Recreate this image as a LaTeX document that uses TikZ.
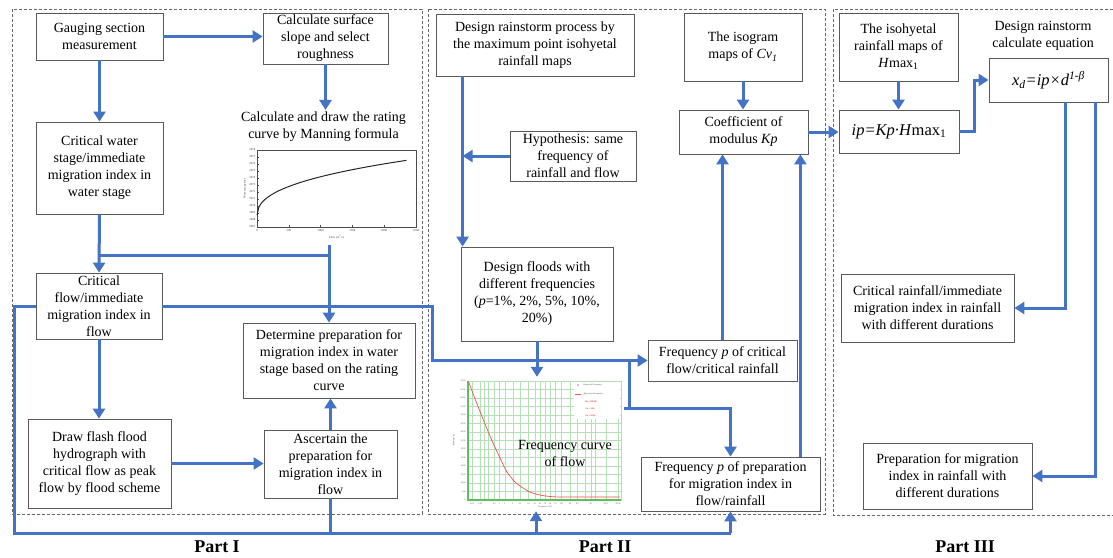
\documentclass[tikz,border=0pt]{standalone}
\usepackage{fontspec}
\setmainfont{Liberation Serif}
\usetikzlibrary{arrows.meta,calc}

\definecolor{flowblue}{HTML}{4472C4}
\definecolor{boxline}{HTML}{595959}
\definecolor{gridgreen}{HTML}{B5DFB5}
\definecolor{axisgreen}{HTML}{5CBF5C}
\definecolor{curvered}{HTML}{E8544E}
\definecolor{framegray}{HTML}{666666}

\begin{document}
\begin{tikzpicture}[x=1pt,y=-1pt,
  box/.style={draw=boxline, line width=0.8pt, align=center, inner sep=1pt,
              font=\fontsize{14}{17}\selectfont, fill=white},
  plain/.style={align=center, inner sep=2pt, font=\fontsize{14}{17}\selectfont},
  link/.style={draw=flowblue, line width=3pt},
  arr/.style={link, -{Triangle[length=10pt,width=12pt]}},
  partframe/.style={draw=framegray, line width=0.7pt, dash pattern=on 3pt off 2pt},
  partlabel/.style={font=\fontsize{18}{20}\selectfont\bfseries},
  tick/.style={font=\fontsize{3}{3.5}\selectfont, inner sep=0.4pt, text=black!75},
  ftick/.style={font=\fontsize{2.2}{2.6}\selectfont, inner sep=0.3pt, text=black!70},
]
\useasboundingbox (0,0) rectangle (1113,557);

% ---------- dashed frames of the three parts ----------
\draw[partframe] (12,9) rectangle (422,514);
\draw[partframe] (428,9) rectangle (825,514);
\draw[partframe] (1113,9) -- (833,9) -- (833,515) -- (1113,515);

\node[partlabel] (p1) at (217,547) {Part I};
\node[partlabel] (p2) at (605,547) {Part II};
\node[partlabel] (p3) at (965,547) {Part III};

% ---------- Part I ----------
\node[box, minimum width=127, minimum height=47] (gauge) at (99.5,36.5)
  {Gauging section\\measurement};
\node[box, minimum width=125, minimum height=51] (slope) at (325.5,38.5)
  {Calculate surface\\slope and select\\roughness};
\node[plain] (ratetitle) at (323.5,127)
  {Calculate and draw the rating\\curve by Manning formula};
\node[box, minimum width=127, minimum height=92] (wstage) at (99.5,168)
  {Critical water\\stage/immediate\\migration index in\\water stage};
\node[box, minimum width=126, minimum height=66] (cflow) at (99,306)
  {Critical\\flow/immediate\\migration index in\\flow};
\node[box, minimum width=172, minimum height=75] (determ) at (329,360.5)
  {Determine preparation for\\migration index in water\\stage based on the rating\\curve};
\node[box, minimum width=143, minimum height=89] (flash) at (99.5,463.5)
  {Draw flash flood\\hydrograph with\\critical flow as peak\\flow by flood scheme};
\node[box, minimum width=133, minimum height=68] (ascert) at (330.5,464)
  {Ascertain the\\preparation for\\migration index in\\flow};

% rating curve chart
\node[minimum width=188, minimum height=99, inner sep=0] (ratechart) at (330,195.5) {};
\draw[line width=0.4pt, black!70] (257,150) rectangle (416,227);
\foreach \i [evaluate=\i as \yy using 227-\i*7, evaluate=\i as \lab using int(2067+\i)] in {0,...,11}{
  \draw[line width=0.3pt, black!70] (257,\yy) -- (259,\yy);
  \node[tick, anchor=east] at (256,\yy) {\lab};
}
\foreach \q [evaluate=\q as \qx using 257+\q/2500*159] in {0,500,1000,1500,2000,2500}{
  \draw[line width=0.3pt, black!70] (\qx,227) -- (\qx,225);
  \node[tick] at (\qx,230.5) {\q};
}
\node[tick] at (336.5,237) {Flow (m\textsuperscript{3}/s)};
\node[tick, rotate=90] at (245,188.5) {Water stage (m)};
\draw[line width=1pt, black!85] plot[domain=0.5:2350, samples=90]
  ({257+\x/2500*159},{217-2.54*(\x)^0.4});

% ---------- Part II ----------
\node[box, minimum width=198, minimum height=62] (rainst) at (535,45)
  {Design rainstorm process by\\the maximum point isohyetal\\rainfall maps};
\node[box, minimum width=126, minimum height=50] (hypo) at (573,156)
  {Hypothesis: same\\frequency of\\rainfall and flow};
\node[box, minimum width=152, minimum height=94] (dflood) at (537,294)
  {Design floods with\\different frequencies\\(\textit{p}=1\%, 2\%, 5\%, 10\%,\\20\%)};
\node[box, minimum width=118, minimum height=68] (isog) at (743,47)
  {The isogram\\maps of \textit{Cv\textsubscript{1}}};
\node[box, minimum width=129, minimum height=44] (coef) at (743.5,132)
  {Coefficient of\\modulus \textit{Kp}};
\node[box, minimum width=149, minimum height=41] (fcrit) at (722.5,360.5)
  {Frequency \textit{p} of critical\\flow/critical rainfall};
\node[box, minimum width=179, minimum height=54] (fprep) at (730.5,484)
  {Frequency \textit{p} of preparation\\for migration index in\\flow/rainfall};

% flow frequency chart
\node[minimum width=176, minimum height=134, inner sep=0] (fchart) at (536,444) {};
\fill[white] (468,381) rectangle (621,500);
\foreach \k in {1,...,14}
  \draw[gridgreen, line width=0.4pt] (468,{500-\k*8.5}) -- (621,{500-\k*8.5});
\foreach \xx in {472.0,480.4,484.3,488.5,494.4,499.3,504.7,512.7,519.8,528.5,534.7,540.0,545,550.0,555.3,561.5,570.2,577.3,585.3,590.7,595.6,605.7,618.0}
  \draw[gridgreen, line width=0.4pt] (\xx,381) -- (\xx,500);
\draw[gridgreen, line width=0.4pt] (468,381) rectangle (621,500);
\fill[white] (574,382) rectangle (620,419);
\draw[axisgreen, line width=1.1pt] (468,381) -- (468,500) -- (621,500);
\foreach \k/\lab in {0/0,1/500,2/{1,000},3/{1,500},4/{2,000},5/{2,500},6/{3,000},7/{3,500},8/{4,000},9/{4,500},10/{5,000},11/{5,500},12/{6,000},13/{6,500},14/{7,000}}
  \node[ftick, anchor=east] at (466,{500-\k*8.5}) {\lab};
\foreach \xx/\lab in {472.0/0.01,480.4/0.05,494.4/0.5,499.3/1,504.7/2,512.7/5,519.8/10,528.5/20,534.7/30,540.0/40,545/50,550.0/60,555.3/70,561.5/80,570.2/90,577.3/95,590.7/99,605.7/99.9,618.0/99.99}
  \node[ftick] at (\xx,503.3) {\lab};
\node[ftick] at (545,507.3) {Frequency (\%)};
\node[ftick, rotate=90, text=blue!55!black] at (453,440) {Flow (m\textsuperscript{3}/s)};
\draw[curvered, line width=0.7pt] plot[smooth] coordinates
  {(468.5,381.5) (477,404) (490,436) (500,458) (507,472) (515,482) (523,488)
   (531,492.5) (540,495) (550,496.5) (565,497) (620,497)};
\fill[blue!60!black] (578,385) circle (0.6);
\node[ftick, anchor=west] at (583,385) {Empirical Frequency};
\draw[curvered, line width=0.5pt] (575,394) -- (581,394);
\node[ftick, anchor=west] at (583,394) {Theoretical Frequency};
\node[ftick, anchor=west, text=red!85!black] at (585,402) {\bfseries Ex = 455.26};
\node[ftick, anchor=west, text=red!85!black] at (585,409) {\bfseries Cv = 1.10};
\node[ftick, anchor=west, text=red!85!black] at (585,416) {\bfseries Cs = 3.5Cv};
\node[plain] (fqlabel) at (565,453) {Frequency curve\\of flow};

% ---------- Part III ----------
\node[box, minimum width=119, minimum height=68] (isoh) at (898.5,47)
  {The isohyetal\\rainfall maps of\\\textit{H}max\textsubscript{1}};
\node[plain] (eqtitle) at (1043,36) {Design rainstorm\\calculate equation};
\node[box, minimum width=119, minimum height=44, font=\fontsize{16.5}{18}\selectfont] (xd) at (1048.5,80)
  {\itshape x\textsubscript{d}=ip×d\textsuperscript{1-β}};
\node[box, minimum width=120, minimum height=43, font=\fontsize{16.5}{18}\selectfont] (ip) at (899,131.5)
  {\textit{ip=Kp·H}max\textsubscript{1}};
\node[box, minimum width=173, minimum height=68] (crain) at (927.5,308)
  {Critical rainfall/immediate\\migration index in rainfall\\with different durations};
\node[box, minimum width=169, minimum height=66] (prain) at (947.5,476)
  {Preparation for migration\\index in rainfall with\\different durations};

% ---------- connectors: Part I ----------
\draw[arr] (gauge.east) -- (gauge.east -| slope.west);
\draw[arr] (slope.south) -- (slope.south |- ratetitle.north);
\draw[arr] (gauge.south) -- (wstage.north);
\draw[arr] (wstage.south) -- (cflow.north);
\coordinate (jw) at ($(wstage.south)!0.7!(cflow.north)$);
\draw[link] (jw) -- (jw -| determ.north);
\draw[arr] (determ.north |- ratechart.south) -- (determ.north);
\draw[arr] (cflow.south) -- (cflow.south |- flash.north);
\draw[arr] (flash.east) -- (flash.east -| ascert.west);
\draw[arr] (ascert.north) -- (ascert.north |- determ.south);

% critical flow to the frequency of critical flow
\coordinate (kn) at (432,306);
\draw[arr] (cflow.east) -- (kn) |- (fcrit.west);
\coordinate (fqout) at ([yshift=36pt]fchart.east);
\coordinate (kb) at (629,0);
\draw[link] (kb |- fcrit.west) -- (kb |- fqout);
\draw[arr] (fqout) -| (fprep.north);

% bottom collector line
\coordinate (bl) at (14,533);
\draw[link] (cflow.west) -| (bl) -- (bl -| fprep.south);
\draw[link] (ascert.south) -- (ascert.south |- bl);
\draw[arr] (bl -| fchart.south) -- (fchart.south);
\draw[arr] (bl -| fprep.south) -- (fprep.south);

% ---------- connectors: Part II ----------
\coordinate (spine) at ([xshift=27pt]rainst.south west);
\draw[arr] (spine) -- (spine |- dflood.north);
\draw[arr] (hypo.west) -- (hypo.west -| spine);
\draw[arr] (dflood.south) -- (dflood.south |- fchart.north);
\draw[arr] (isog.south) -- (isog.south |- coef.north);
\draw[arr] (fcrit.north) -- (fcrit.north |- coef.south);
\coordinate (rp) at ([xshift=-20pt]fprep.north east);
\draw[arr] (rp) -- (rp |- coef.south);
\draw[arr] (coef.east) -- (coef.east -| ip.west);

% ---------- connectors: Part III ----------
\draw[arr] (isoh.south) -- (isoh.south |- ip.north);
\draw[arr] (ip.east) -- ++(15,0) |- (xd.west);
\coordinate (d1) at ([xshift=-43pt]xd.south east);
\coordinate (d2) at ([xshift=-13pt]xd.south east);
\draw[arr] (d1) |- (crain.east);
\draw[arr] (d2) |- (prain.east);
\end{tikzpicture}
\end{document}
